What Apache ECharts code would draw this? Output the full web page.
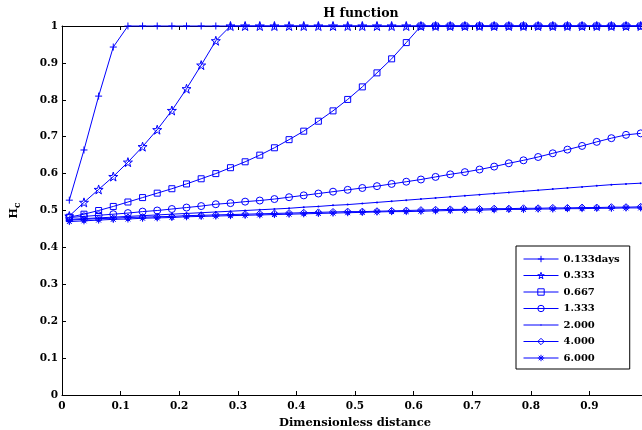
<!DOCTYPE html>
<html>
<head>
<meta charset="utf-8">
<script src="https://cdn.jsdelivr.net/npm/echarts@6/dist/echarts.min.js"></script>
<style>
  html, body { margin: 0; padding: 0; background: #fff; }
  #chart { width: 642px; height: 430px; }
</style>
</head>
<body>
<div id="chart"></div>
<script>
// Dimensionless distance at which H_c was evaluated
const distance = [0.0125, 0.0375, 0.0625, 0.0875, 0.1125, 0.1375, 0.1625, 0.1875, 0.2125, 0.2375,
                  0.2625, 0.2875, 0.3125, 0.3375, 0.3625, 0.3875, 0.4125, 0.4375, 0.4625, 0.4875,
                  0.5125, 0.5375, 0.5625, 0.5875, 0.6125, 0.6375, 0.6625, 0.6875, 0.7125, 0.7375,
                  0.7625, 0.7875, 0.8125, 0.8375, 0.8625, 0.8875, 0.9125, 0.9375, 0.9625, 0.9875];

// H_c for each elapsed time
const hc0133 = [0.528, 0.664, 0.810, 0.943, 1, 1, 1, 1, 1, 1,
                1, 1, 1, 1, 1, 1, 1, 1, 1, 1,
                1, 1, 1, 1, 1, 1, 1, 1, 1, 1,
                1, 1, 1, 1, 1, 1, 1, 1, 1, 1];
const hc0333 = [0.485, 0.522, 0.557, 0.592, 0.631, 0.673, 0.719, 0.771, 0.830, 0.894,
                0.960, 1, 1, 1, 1, 1, 1, 1, 1, 1,
                1, 1, 1, 1, 1, 1, 1, 1, 1, 1,
                1, 1, 1, 1, 1, 1, 1, 1, 1, 1];
const hc0667 = [0.482, 0.490, 0.500, 0.511, 0.523, 0.535, 0.547, 0.559, 0.572, 0.586,
                0.600, 0.616, 0.632, 0.650, 0.670, 0.692, 0.715, 0.742, 0.770, 0.801,
                0.835, 0.873, 0.911, 0.955, 1, 1, 1, 1, 1, 1,
                1, 1, 1, 1, 1, 1, 1, 1, 1, 1];
const hc1333 = [0.481, 0.484, 0.487, 0.490, 0.493, 0.497, 0.500, 0.504, 0.508, 0.512,
                0.517, 0.520, 0.524, 0.527, 0.531, 0.536, 0.541, 0.546, 0.551, 0.556,
                0.561, 0.566, 0.572, 0.578, 0.584, 0.591, 0.598, 0.604, 0.611, 0.619,
                0.628, 0.636, 0.645, 0.655, 0.665, 0.675, 0.686, 0.696, 0.705, 0.709];
const hc2000 = [0.476, 0.478, 0.480, 0.482, 0.484, 0.486, 0.488, 0.490, 0.492, 0.494,
                0.496, 0.498, 0.500, 0.502, 0.504, 0.506, 0.509, 0.511, 0.514, 0.516,
                0.519, 0.522, 0.525, 0.528, 0.531, 0.534, 0.537, 0.540, 0.543, 0.546,
                0.549, 0.552, 0.555, 0.558, 0.561, 0.564, 0.567, 0.570, 0.572, 0.574];
const hc4000 = [0.474, 0.476, 0.478, 0.479, 0.481, 0.482, 0.483, 0.484, 0.486, 0.487,
                0.488, 0.489, 0.490, 0.491, 0.492, 0.493, 0.494, 0.495, 0.496, 0.497,
                0.497, 0.498, 0.499, 0.500, 0.501, 0.502, 0.503, 0.503, 0.504, 0.505,
                0.505, 0.506, 0.506, 0.507, 0.507, 0.508, 0.508, 0.509, 0.509, 0.510];
const hc6000 = [0.470, 0.472, 0.474, 0.476, 0.477, 0.479, 0.480, 0.481, 0.483, 0.484,
                0.485, 0.486, 0.487, 0.488, 0.489, 0.490, 0.491, 0.492, 0.493, 0.494,
                0.495, 0.496, 0.497, 0.497, 0.498, 0.499, 0.500, 0.501, 0.501, 0.502,
                0.503, 0.503, 0.504, 0.504, 0.505, 0.505, 0.506, 0.506, 0.507, 0.507];

const seriesNames = ['0.133days', '0.333', '0.667', '1.333', '2.000', '4.000', '6.000'];
const seriesValues = [hc0133, hc0333, hc0667, hc1333, hc2000, hc4000, hc6000];

const BLUE = '#0000ff';
const NOFILL = 'rgba(0,0,0,0)';
const FONT = 'DejaVu Serif';

// Marker shapes
const PLUS = 'path://M5,0L5,10M0,5L10,5';
const STAR = 'path://M5,0L6.123,3.455L9.755,3.455L6.816,5.59L7.939,9.045L5,6.91L2.061,9.045L3.184,5.59L0.245,3.455L3.877,3.455Z';
const DOT = 'path://M0,0L0,0M10,10L10,10M5,4A1,1,0,1,0,5,6A1,1,0,1,0,5,4Z';
const ASTERISK = 'path://M5,0L5,10M0,5L10,5M1.5,1.5L8.5,8.5M8.5,1.5L1.5,8.5';

const markerStyles = [
  { symbol: PLUS, size: 7, fill: NOFILL, stroke: 1 },
  { symbol: STAR, size: 9, fill: NOFILL, stroke: 1 },
  { symbol: 'rect', size: 6, fill: NOFILL, stroke: 1 },
  { symbol: 'circle', size: 7, fill: NOFILL, stroke: 1 },
  { symbol: DOT, size: 10, fill: BLUE, stroke: 0 },
  { symbol: 'diamond', size: 7, fill: NOFILL, stroke: 1 },
  { symbol: ASTERISK, size: 7, fill: NOFILL, stroke: 1 }
];

const series = seriesNames.map((name, k) => ({
  name: name,
  type: 'line',
  data: distance.map((x, i) => [x, seriesValues[k][i]]),
  symbol: markerStyles[k].symbol,
  symbolSize: markerStyles[k].size,
  showAllSymbol: true,
  clip: false,
  color: BLUE,
  lineStyle: { color: BLUE, width: 1 },
  itemStyle: { color: markerStyles[k].fill, borderColor: BLUE, borderWidth: markerStyles[k].stroke },
  emphasis: { disabled: true },
  z: 2 + k
}));

const legendData = seriesNames.map((name, k) => ({
  name: name,
  itemStyle: { color: markerStyles[k].fill, borderColor: BLUE, borderWidth: markerStyles[k].stroke },
  lineStyle: { color: BLUE, width: 1 }
}));

const chart = echarts.init(document.getElementById('chart'), null, { renderer: 'canvas' });
chart.setOption({
  animation: false,
  backgroundColor: '#fff',
  title: {
    text: 'H function',
    left: 356,
    top: 2,
    textAlign: 'center',
    textStyle: { fontFamily: FONT, fontWeight: 'bold', fontSize: 12.5, color: '#000' }
  },
  grid: { left: 62, right: -6, top: 26, bottom: 35, containLabel: false, outerBoundsMode: 'none' },
  legend: {
    orient: 'vertical',
    left: 516,
    top: 246,
    padding: [7, 10, 5, 7],
    itemWidth: 35,
    itemHeight: 8,
    itemGap: 4.5,
    backgroundColor: '#fff',
    borderColor: '#000',
    borderWidth: 1,
    selectedMode: false,
    lineStyle: { width: 1 },
    textStyle: { fontFamily: FONT, fontWeight: 'bold', fontSize: 10, lineHeight: 12, color: '#000' },
    data: legendData
  },
  xAxis: [{
    type: 'value',
    min: 0, max: 1, interval: 0.1,
    name: 'Dimensionless distance',
    nameLocation: 'middle',
    nameGap: 14,
    nameTextStyle: { fontFamily: FONT, fontWeight: 'bold', fontSize: 11.5, color: '#000' },
    axisLine: { lineStyle: { color: '#000', width: 1 } },
    axisTick: { inside: true, length: 4, lineStyle: { color: '#000' } },
    axisLabel: { margin: 6, fontFamily: FONT, fontWeight: 'bold', fontSize: 10.5, color: '#000' },
    splitLine: { show: false }
  }, {
    type: 'value',
    position: 'top',
    min: 0, max: 1, interval: 0.1,
    axisLine: { show: true, lineStyle: { color: '#000', width: 1 } },
    axisTick: { inside: true, length: 4, lineStyle: { color: '#000' } },
    axisLabel: { show: false },
    splitLine: { show: false }
  }],
  yAxis: {
    type: 'value',
    min: 0, max: 1, interval: 0.1,
    name: '{h|H}{c|c}',
    nameLocation: 'middle',
    nameRotate: 90,
    nameGap: 40,
    nameTextStyle: {
      color: '#000',
      rich: {
        h: { fontFamily: FONT, fontWeight: 'bold', fontSize: 11, lineHeight: 16, color: '#000' },
        c: { fontFamily: FONT, fontWeight: 'bold', fontSize: 9, lineHeight: 9, verticalAlign: 'bottom', color: '#000' }
      }
    },
    axisLine: { show: true, lineStyle: { color: '#000', width: 1 } },
    axisTick: { show: true, inside: true, length: 4, lineStyle: { color: '#000' } },
    axisLabel: { margin: 4, fontFamily: FONT, fontWeight: 'bold', fontSize: 10.5, color: '#000' },
    splitLine: { show: false }
  },
  series: series
});
</script>
</body>
</html>
